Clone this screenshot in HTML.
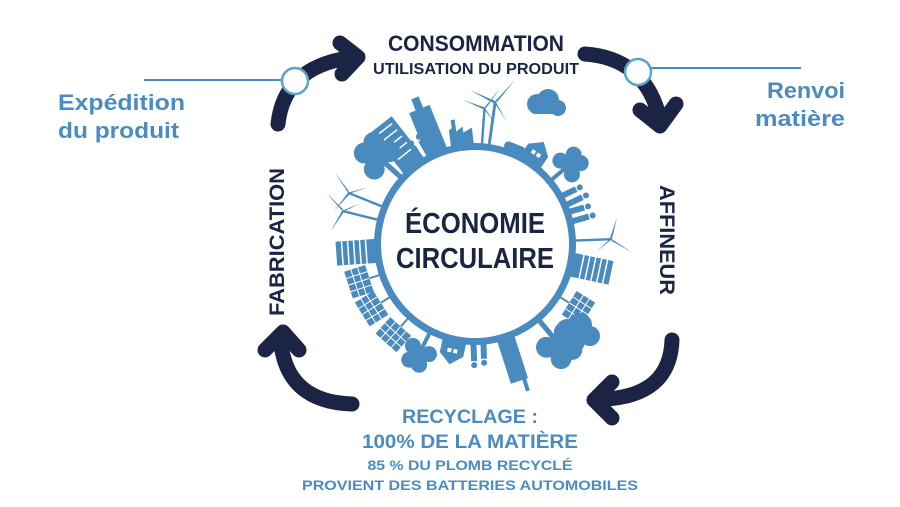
<!DOCTYPE html>
<html><head><meta charset="utf-8"><style>
html,body{margin:0;padding:0;background:#fff}
svg{display:block}
text{font-family:"Liberation Sans",sans-serif;font-weight:bold}
</style></head><body>
<svg width="900" height="507" viewBox="0 0 900 507">
<defs>
<g id="tree"><rect x="-2" y="-18" width="4" height="18"/><circle cx="0" cy="-26" r="10"/><circle cx="-9" cy="-20" r="8"/><circle cx="9" cy="-20" r="8"/><circle cx="-5" cy="-34" r="8"/><circle cx="6" cy="-34" r="8"/></g>
<g id="turb"><rect x="-1.2" y="-38" width="2.4" height="38"/><path d="M0,-38 L-22,-44 L-1,-36 Z M0,-38 L14,-58 L2,-38 Z M0,-38 L12,-22 L-1,-37 Z"/></g>
<g id="ppl"><circle cx="-5" cy="-20" r="3"/><rect x="-8" y="-16" width="6" height="16"/><circle cx="5" cy="-22" r="3"/><rect x="2" y="-18" width="6" height="18"/></g>
<g id="house"><path d="M-12,0 L-12,-14 L0,-24 L12,-14 L12,0 Z"/><rect x="-5" y="-12" width="4" height="4" fill="#fff"/><rect x="1" y="-12" width="4" height="4" fill="#fff"/></g>
<g id="solar"><rect x="-1" y="-12" width="2" height="12"/><rect x="-14" y="-34" width="28" height="22"/><path d="M-14,-27 H14 M-14,-20 H14 M-7,-34 V-12 M0,-34 V-12 M7,-34 V-12" stroke="#fff" stroke-width="1"/></g>
<g id="bldg"><rect x="-12" y="-40" width="24" height="40"/><path d="M-12,-34 H12 M-12,-28 H12 M-12,-22 H12 M-12,-16 H12 M-12,-10 H12" stroke="#fff" stroke-width="1.5"/></g>
</defs>

<!-- connector lines -->
<line x1="144" y1="80" x2="285" y2="80" stroke="#4a8cc0" stroke-width="2"/>
<line x1="650" y1="68" x2="801" y2="68" stroke="#4a8cc0" stroke-width="2"/>

<!-- arrows -->
<g fill="none" stroke="#1b2444" stroke-width="15" stroke-linecap="round" stroke-linejoin="round">
<path d="M278,124 Q284,68 348,58"/>
<path d="M340,43 L358,57 L342,74"/>
<path d="M585,54 Q642,58 658,112"/>
<path d="M640,110 L660,126 L676,104"/>
<path d="M672,340 Q670,396 604,399"/>
<path d="M612,382 L594,400 L612,418"/>
<path d="M352,404 Q288,402 281,344"/>
<path d="M265,350 L283,332 L299,350"/>
</g>
<circle cx="295" cy="81" r="13" fill="#fff" stroke="#5ba3cc" stroke-width="2.5"/>
<circle cx="638" cy="72" r="13" fill="#fff" stroke="#5ba3cc" stroke-width="2.5"/>

<!-- city ring -->
<g fill="#4a8bbf">
<circle cx="475" cy="244" r="101"/>
<g transform="rotate(-38 475 244)"><rect x="462" y="92" width="26" height="52"/><path d="M466,98H484M466,106H484M466,114H484M466,122H484M466,130H484" stroke="#fff" stroke-width="1.5"/></g>
<g transform="rotate(-22 475 244)"><rect x="463" y="98" width="22" height="48"/><rect x="470" y="86" width="8" height="14"/></g>
<g transform="rotate(-7 475 244)"><path d="M463,146 V128 L470,124 L470,130 L477,126 L477,132 L486,128 V146Z"/><rect x="466" y="118" width="4" height="10"/></g>
<g transform="rotate(8 475 244)"><use href="#turb" x="475" y="145" transform="scale(1.2) translate(-79 -24)"/></g>
<g transform="rotate(4 475 244)"><use href="#turb" x="475" y="145"/></g>
<g transform="rotate(22 475 244)"><rect x="465" y="136" width="22" height="9" rx="4"/></g>
<g transform="rotate(34 475 244)"><use href="#house" x="475" y="145"/></g>
<g transform="rotate(50 475 244)"><use href="#tree" x="475" y="145"/></g>
<g transform="rotate(64 475 244)"><use href="#ppl" x="475" y="145"/></g>
<g transform="rotate(74 475 244)"><use href="#ppl" x="475" y="145"/></g>
<g transform="rotate(88 475 244)"><use href="#turb" x="475" y="145"/></g>
<g transform="rotate(102 475 244)"><use href="#bldg" x="475" y="145"/></g>
<g transform="rotate(122 475 244)"><use href="#solar" x="475" y="145"/></g>
<g transform="rotate(140 475 244)"><use href="#tree" x="475" y="145" transform="translate(475 145) scale(1.3) translate(-475 -145)"/></g>
<g transform="rotate(162 475 244)"><rect x="466" y="100" width="18" height="46"/><rect x="468" y="88" width="4" height="14"/></g>
<g transform="rotate(178 475 244)"><use href="#ppl" x="475" y="145"/></g>
<g transform="rotate(192 475 244)"><use href="#house" x="475" y="145"/></g>
<g transform="rotate(207 475 244)"><use href="#tree" x="475" y="145"/></g>
<g transform="rotate(222 475 244)"><use href="#solar" x="475" y="145"/></g>
<g transform="rotate(238 475 244)"><use href="#solar" x="475" y="145"/></g>
<g transform="rotate(252 475 244)"><use href="#solar" x="475" y="145"/></g>
<g transform="rotate(266 475 244)"><use href="#bldg" x="475" y="145"/></g>
<g transform="rotate(284 475 244)"><use href="#turb" x="475" y="145"/></g>
<g transform="rotate(292 475 244)"><use href="#turb" x="475" y="145"/></g>
<g transform="rotate(312 475 244)"><use href="#tree" x="475" y="145" transform="translate(475 145) scale(1.3) translate(-475 -145)"/></g>
<g transform="rotate(330 475 244)"><use href="#ppl" x="475" y="145"/></g>
<!-- clouds -->
<g><circle cx="537" cy="104" r="10"/><circle cx="548" cy="100" r="11"/><circle cx="558" cy="108" r="8"/><rect x="530" y="104" width="32" height="10" rx="5"/></g>
<g><circle cx="567" cy="330" r="11"/><circle cx="580" cy="325" r="12"/><circle cx="590" cy="336" r="10"/><circle cx="575" cy="342" r="10"/></g>
<circle cx="475" cy="244" r="94" fill="#fff"/>
</g>

<!-- center text -->
<text x="475" y="233" text-anchor="middle" font-size="29" fill="#1b2444" textLength="140" lengthAdjust="spacingAndGlyphs">ÉCONOMIE</text>
<text x="475" y="268" text-anchor="middle" font-size="29" fill="#1b2444" textLength="158" lengthAdjust="spacingAndGlyphs">CIRCULAIRE</text>

<text x="476" y="51" text-anchor="middle" font-size="22" fill="#1b2444" textLength="176" lengthAdjust="spacingAndGlyphs">CONSOMMATION</text>
<text x="476" y="74" text-anchor="middle" font-size="16" fill="#1b2444" textLength="206" lengthAdjust="spacingAndGlyphs">UTILISATION DU PRODUIT</text>

<text transform="translate(284 316) rotate(-90)" font-size="21" fill="#1b2444" textLength="148" lengthAdjust="spacingAndGlyphs">FABRICATION</text>
<text transform="translate(660 185) rotate(90)" font-size="21" fill="#1b2444" textLength="110" lengthAdjust="spacingAndGlyphs">AFFINEUR</text>

<text x="58" y="110" font-size="22" fill="#4a8cc0" textLength="127" lengthAdjust="spacingAndGlyphs">Expédition</text>
<text x="58" y="138" font-size="22" fill="#4a8cc0" textLength="121" lengthAdjust="spacingAndGlyphs">du produit</text>
<text x="845" y="98" text-anchor="end" font-size="22" fill="#4a8cc0" textLength="78" lengthAdjust="spacingAndGlyphs">Renvoi</text>
<text x="845" y="126" text-anchor="end" font-size="22" fill="#4a8cc0" textLength="90" lengthAdjust="spacingAndGlyphs">matière</text>

<text x="470" y="423" text-anchor="middle" font-size="19" fill="#4a8cc0" textLength="136" lengthAdjust="spacingAndGlyphs">RECYCLAGE :</text>
<text x="470" y="448" text-anchor="middle" font-size="19" fill="#4a8cc0" textLength="216" lengthAdjust="spacingAndGlyphs">100% DE LA MATIÈRE</text>
<text x="470" y="470" text-anchor="middle" font-size="14" fill="#4a8cc0" textLength="205" lengthAdjust="spacingAndGlyphs">85 % DU PLOMB RECYCLÉ</text>
<text x="470" y="490" text-anchor="middle" font-size="14" fill="#4a8cc0" textLength="336" lengthAdjust="spacingAndGlyphs">PROVIENT DES BATTERIES AUTOMOBILES</text>
</svg>
</body></html>
